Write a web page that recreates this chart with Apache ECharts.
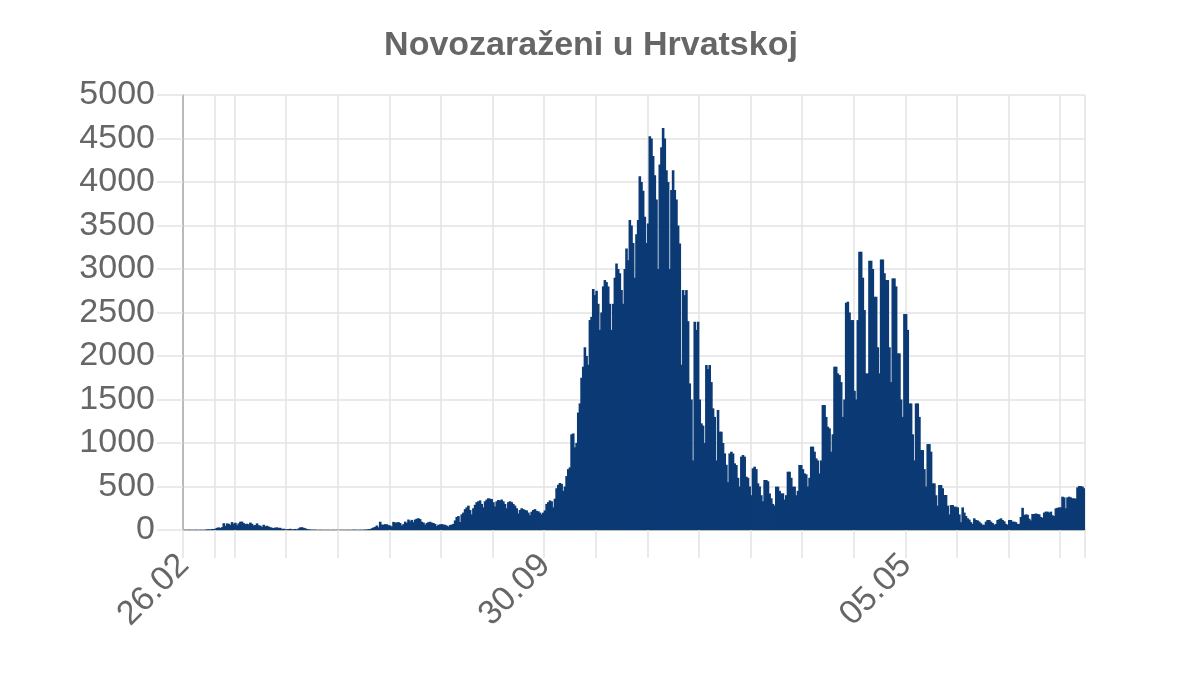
<!DOCTYPE html>
<html>
<head>
<meta charset="utf-8">
<script src="https://cdn.jsdelivr.net/npm/echarts@6/dist/echarts.min.js"></script>
<style>
html,body{margin:0;padding:0;background:#fff;}
#chart{width:1200px;height:683px;}
</style>
</head>
<body>
<div id="chart"></div>
<script>
// Daily new cases in Croatia, 26.02.2020 - 20.08.2021
const startDate = [2020, 2, 26]; // first category: 26.02.2020
const cases2020Spring = [
  1,1,0,2,1,
  1,0,2,1,0,2,1,
  1,3,6,8,5,12,10,
  16,25,30,23,33,78,48,
  76,71,60,91,71,83,55,
  77,96,96,79,68,72,65,
  85,71,52,58,76,54,50,
  34,60,44,49,39,32,26,
  22,28,30,24,25,12,15,
  10,8,11,14,6,8,12,
  5,18,30,32,25,20,10,
  7,4,3,2,3,1,0,
  2,1,0,1,0,1,0,
  0,1,0,1,0,0,1
];
const cases2020Summer = [
  1,0,2,0,1,0,3,
  2,1,0,3,1,2,5,
  4,10,11,20,29,36,51,
  30,95,62,61,67,66,55,
  52,40,93,86,86,91,80,
  52,67,96,81,120,100,116,
  90,120,130,135,125,95,85,
  60,80,90,95,85,80,70,
  45,60,65,68,62,60,50,
  40,57,62,70,110,150,160,
  92,180,200,240,260,280,230,
  180,250,290,320,330,340,300,
  260,330,350,365,360,355,320,
  270,330,345,340,350,330,300,
  250,320,330,320,300,280,250,
  190,230,250,240,230,225,200,
  170,210,230,240,220,215,200
];
const cases2020Autumn = [
  180,200,225,300,320,340,330,
  260,360,480,520,540,530,450,
  500,620,700,720,1100,1110,950,
  1000,1350,1455,1750,1877,2100,2000,
  1900,2413,2450,2770,2700,2750,2600,
  2300,2500,2800,2873,2850,2800,2600,
  2300,2600,2900,3064,3000,2950,2758,
  2600,3000,3236,3100,3562,3500,3300,
  2900,3400,3562,4067,4000,3900,3600,
  3300,3524,4527,4500,4300,4079,3800,
  3000,4200,4400,4620,4500,4136,4000,
  3000,3907,4136,3907,3800,3500,3294,
  1900,2758,2700,2758,2400,1685,1500
];
const cases2021Winter = [
  800,2394,2300,2394,1500,1226,1200,
  1000,1896,1850,1896,1700,1398,1300,
  800,1379,1130,1130,1000,881,750,
  550,880,900,880,766,747,600,
  500,843,862,843,613,600,500,
  400,709,728,700,536,500,400,
  330,575,575,560,420,364,300,
  280,498,498,450,421,421,350,
  400,670,670,600,498,498,400
];
const cases2021Spring = [
  450,747,747,700,651,640,500,
  600,958,958,900,823,800,650,
  800,1436,1436,1300,1187,1168,900,
  1100,1877,1877,1800,1781,1700,1300,
  1500,2612,2624,2500,2413,2413,1600,
  1500,2413,3198,3198,2900,2528,1800,
  1800,3095,3095,3000,2681,2681,2100,
  1800,3110,3110,2950,2873,2873,2100,
  1700,2892,2892,2800,2030,2030,1500,
  1300,2482,2482,2300,1455,1455,1100,
  800,1455,1455,1300,919,919,700,
  500,988,988,900,536,536,400,
  280,517,517,480,402,402,280
];
const cases2021Summer = [
  180,287,287,268,268,260,180,
  90,260,200,160,134,120,90,
  70,134,115,110,96,77,60,
  60,96,115,115,96,80,60,
  70,115,123,134,115,100,70,
  60,115,115,96,96,90,70,
  70,150,255,172,180,175,130,
  110,184,184,190,184,180,150,
  140,200,211,211,200,211,170,
  160,249,255,260,260,383,375,
  250,375,383,375,364,364,360,
  490,505,505,498,480
];
const yTicks = [0, 500, 1000, 1500, 2000, 2500, 3000, 3500, 4000, 4500, 5000];
const labelEvery = 217;   // labels: 26.02, 30.09, 05.05
const gridEvery = 31;     // vertical grid lines
const extraGridIndex = 19;

const values = [].concat(cases2020Spring, cases2020Summer, cases2020Autumn,
  cases2021Winter, cases2021Spring, cases2021Summer);

const categories = [];
{
  const d = new Date(startDate[0], startDate[1] - 1, startDate[2], 12);
  for (let i = 0; i < values.length; i++) {
    const dd = String(d.getDate()).padStart(2, '0');
    const mm = String(d.getMonth() + 1).padStart(2, '0');
    categories.push(dd + '.' + mm);
    d.setDate(d.getDate() + 1);
  }
}

const FONT = '"Liberation Sans", Arial, Helvetica, sans-serif';
const BAR = '#0b3a75';
const gridShow = (idx) => idx % gridEvery === 0 || idx === extraGridIndex;

const chart = echarts.init(document.getElementById('chart'), null, {renderer: 'canvas'});
chart.setOption({
  animation: false,
  backgroundColor: '#ffffff',
  title: {
    text: 'Novozaraženi u Hrvatskoj',
    left: 586,
    top: 24,
    textAlign: 'center',
    textStyle: {fontFamily: FONT, fontSize: 34, fontWeight: 'bold', color: '#666666'}
  },
  grid: {left: 183, right: 115, top: 95, bottom: 153, containLabel: false},
  xAxis: {
    type: 'category',
    data: categories,
    boundaryGap: true,
    axisLine: {show: true, lineStyle: {color: '#aaaaaa', width: 1.5}},
    axisTick: {show: true, length: 28, interval: gridShow, lineStyle: {color: '#e3e3e3', width: 1.5}},
    splitLine: {show: true, interval: gridShow, lineStyle: {color: '#e3e3e3', width: 1.5}},
    axisLabel: {
      interval: (idx) => idx % labelEvery === 0,
      rotate: 45,
      margin: 30,
      fontFamily: FONT,
      fontSize: 34,
      color: '#666666'
    }
  },
  yAxis: {
    type: 'value',
    min: yTicks[0],
    max: yTicks[yTicks.length - 1],
    interval: yTicks[1] - yTicks[0],
    axisLine: {show: true, lineStyle: {color: '#aaaaaa', width: 1.5}},
    axisTick: {show: true, length: 26, lineStyle: {color: '#e3e3e3', width: 1.5}},
    splitLine: {show: true, lineStyle: {color: '#e3e3e3', width: 1.5}},
    axisLabel: {margin: 28, fontFamily: FONT, fontSize: 34, color: '#666666',
      formatter: (v) => String(v)}
  },
  series: [{
    type: 'bar',
    data: values,
    barWidth: 2.6,
    large: false,
    itemStyle: {color: BAR},
    emphasis: {disabled: true}
  }]
});
</script>
</body>
</html>
